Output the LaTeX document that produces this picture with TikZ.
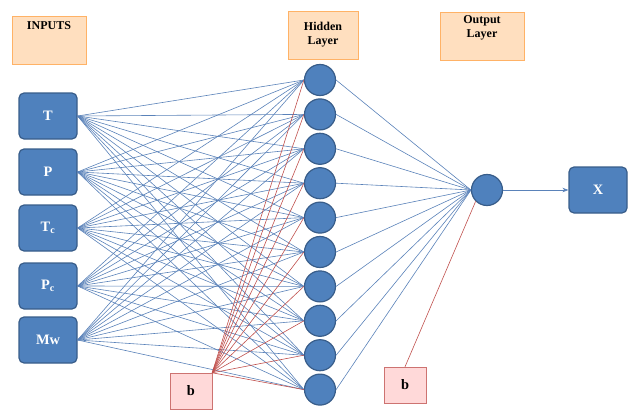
\documentclass[tikz,border=0pt]{standalone}
\usepackage{fontspec}
\setmainfont{Liberation Serif}
\usetikzlibrary{arrows.meta}
\definecolor{nblue}{RGB}{79,129,189}
\definecolor{nedge}{RGB}{56,93,138}
\definecolor{wline}{RGB}{90,130,185}
\definecolor{bline}{RGB}{192,80,77}
\tikzset{
 inp/.style={draw=nedge,very thick,fill=nblue,rounded corners=5pt,minimum width=58pt,minimum height=46pt,text=white,font=\bfseries\Large},
 neur/.style={circle,draw=nedge,very thick,fill=nblue,minimum size=31pt,inner sep=0pt},
 head/.style={draw=orange!60,fill=orange!25,font=\bfseries\large,align=center,minimum height=48pt},
 bias/.style={draw=bline!80,fill=red!15,minimum width=42pt,minimum height=36pt,font=\bfseries\Large},
 wt/.style={wline,line width=0.6pt},
 bw/.style={bline,line width=0.6pt}
}
\begin{document}
\begin{tikzpicture}[x=1pt,y=-1pt]
\useasboundingbox (0,0) rectangle (640,420);
\node[head,minimum width=74pt] (hin) at (49,40) {INPUTS\\[14pt]};
\node[head,minimum width=70pt] (hhid) at (323,35) {Hidden\\Layer};
\node[head,minimum width=84pt] (hout) at (482,36) {Output\\Layer\\[4pt]};
\node[inp] (i1) at (48,116) {T};
\node[inp] (i2) at (48,172) {P};
\node[inp] (i3) at (48,228) {T$_\mathbf{c}$};
\node[inp] (i4) at (48,286) {P$_\mathbf{c}$};
\node[inp] (i5) at (48,340) {Mw};
\foreach \k in {1,...,10}
  \node[neur] (h\k) at (320,{80+(\k-1)*34.4}) {};
\node[neur] (o) at (487,190) {};
\node[inp] (x) at (598,190) {X};
\node[bias] (b1) at (191,391) {b};
\node[bias] (b2) at (405,385) {b};
% weights
\foreach \i in {1,...,5}
  \foreach \k in {1,...,10}
    \draw[wt] (i\i.east) -- (h\k.west);
\foreach \k in {1,...,10}{
  \draw[bw] (b1.north east) -- (h\k.west);
  \draw[wt] (h\k.east) -- (o.west);
}
\draw[bw] (b2.north) -- (o.south west);
\draw[wt,-{Stealth[length=6pt]}] (o.east) -- (x.west);
\end{tikzpicture}
\end{document}
